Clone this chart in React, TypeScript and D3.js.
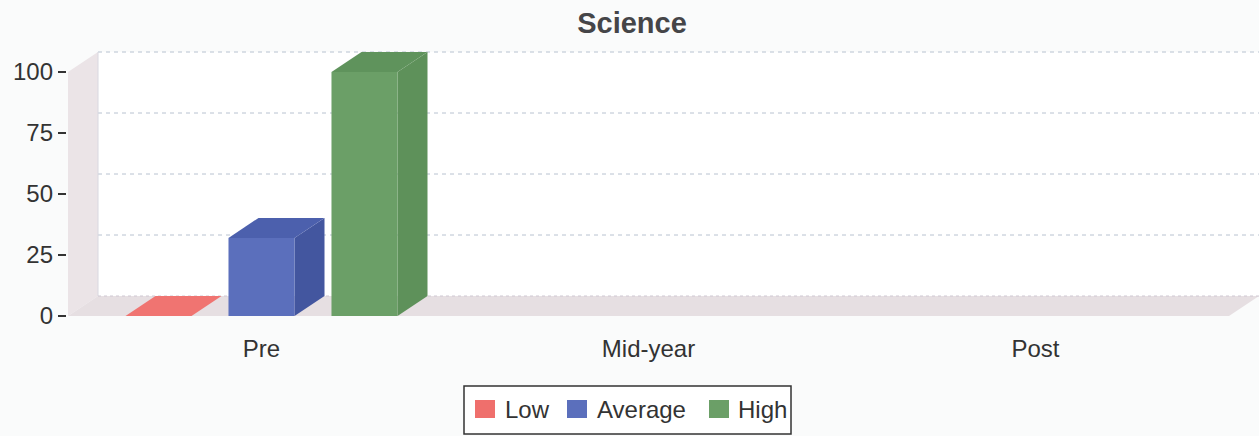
import React from "react";
import * as d3 from "d3";

const categories = ["Pre", "Mid-year", "Post"];
const seriesNames = ["Low", "Average", "High"];
const lowValues = [0, null, null];
const averageValues = [32, null, null];
const highValues = [100, null, null];
const yTicks = [0, 25, 50, 75, 100];

const seriesColors = {
  Low: { front: "#ef6f6c", top: "#f07471", side: "#d85f5c" },
  Average: { front: "#5b6fbc", top: "#4c60ad", side: "#43569f" },
  High: { front: "#6b9f67", top: "#5f935c", side: "#5e915a" },
};

const W = 1259;
const H = 436;
const DX = 30;
const DY = -20;

export default function App() {
  const x = d3.scaleBand<string>().domain(categories).range([68, 1229]).padding(0);
  const inner = d3
    .scaleBand<string>()
    .domain(seriesNames)
    .range([57.5, x.bandwidth() - 57.5])
    .paddingInner(0.359)
    .paddingOuter(0);
  const y = d3.scaleLinear().domain([0, 100]).range([316, 72]);

  const seriesData: Record<string, (number | null)[]> = {
    Low: lowValues,
    Average: averageValues,
    High: highValues,
  };

  const x0 = x.range()[0];
  const x1 = x.range()[1];
  const y0 = y(0);
  const yTop = y(100);

  const pts = (p: number[][]) => p.map((q) => q.join(",")).join(" ");

  const bars: React.ReactNode[] = [];
  categories.forEach((cat, ci) => {
    seriesNames.forEach((s) => {
      const v = seriesData[s][ci];
      if (v === null || v === undefined) return;
      const bx = (x(cat) as number) + (inner(s) as number);
      const bw = inner.bandwidth();
      const yt = y(v);
      const c = (seriesColors as any)[s];
      const key = `${cat}-${s}`;
      if (v > 0) {
        bars.push(
          <polygon key={key + "-side"} points={pts([[bx + bw, y0], [bx + bw + DX, y0 + DY], [bx + bw + DX, yt + DY], [bx + bw, yt]])} fill={c.side} />
        );
        bars.push(<rect key={key + "-front"} x={bx} y={yt} width={bw} height={y0 - yt} fill={c.front} />);
      }
      bars.push(
        <polygon key={key + "-top"} points={pts([[bx, yt], [bx + bw, yt], [bx + bw + DX, yt + DY], [bx + DX, yt + DY]])} fill={c.top} />
      );
    });
  });

  const font = "'Liberation Sans', Arial, sans-serif";
  const legendX = [475, 567, 709];
  const legendTextX = [505, 597, 738];

  return (
    <div style={{ position: "absolute", left: 0, top: 0 }}>
      <svg width={W} height={H} style={{ display: "block" }}>
        <rect x={0} y={0} width={W} height={H} fill="#fafbfb" />
        <text x={632} y={33} textAnchor="middle" fontFamily={font} fontWeight="bold" fontSize={29} fill="#454548">
          Science
        </text>
        {/* back wall */}
        <rect x={x0 + DX} y={yTop + DY} width={x1 - x0} height={y0 - yTop} fill="#ffffff" />
        {yTicks.filter((t) => t > 0).map((t) => (
          <line key={"g" + t} x1={x0 + DX} x2={x1 + DX} y1={y(t) + DY} y2={y(t) + DY} stroke="#b8c2d0" strokeWidth={1} strokeDasharray="4,4" />
        ))}
        {/* left wall */}
        <polygon points={pts([[x0, y0], [x0, yTop], [x0 + DX, yTop + DY], [x0 + DX, y0 + DY]])} fill="#ebe4e7" />
        <line x1={x0 + DX} x2={x0 + DX} y1={yTop + DY} y2={y0 + DY} stroke="#d8d8e0" strokeWidth={1} />
        {/* floor */}
        <polygon points={pts([[x0, y0], [x1, y0], [x1 + DX, y0 + DY], [x0 + DX, y0 + DY]])} fill="#e6dfe2" />
        <line x1={x0 + DX} x2={x1 + DX} y1={y0 + DY} y2={y0 + DY} stroke="#cfc8d2" strokeWidth={1} strokeDasharray="3,3" />
        {bars}
        {/* y axis ticks */}
        {yTicks.map((t) => (
          <g key={"t" + t}>
            <line x1={58} x2={66} y1={y(t)} y2={y(t)} stroke="#333" strokeWidth={2} />
            <text x={53} y={y(t)} dy="0.35em" textAnchor="end" fontFamily={font} fontSize={24} fill="#333">
              {t}
            </text>
          </g>
        ))}
        {categories.map((c) => (
          <text key={c} x={(x(c) as number) + x.bandwidth() / 2} y={357} textAnchor="middle" fontFamily={font} fontSize={24} fill="#333">
            {c}
          </text>
        ))}
        {/* legend */}
        <rect x={464} y={386} width={327} height={48} fill="#ffffff" stroke="#333" strokeWidth={1.5} />
        {seriesNames.map((s, i) => (
          <g key={"l" + s}>
            <rect x={legendX[i]} y={400} width={20} height={18} fill={(seriesColors as any)[s].front} />
            <text x={legendTextX[i]} y={418} fontFamily={font} fontSize={24} fill="#333">
              {s}
            </text>
          </g>
        ))}
      </svg>
    </div>
  );
}
